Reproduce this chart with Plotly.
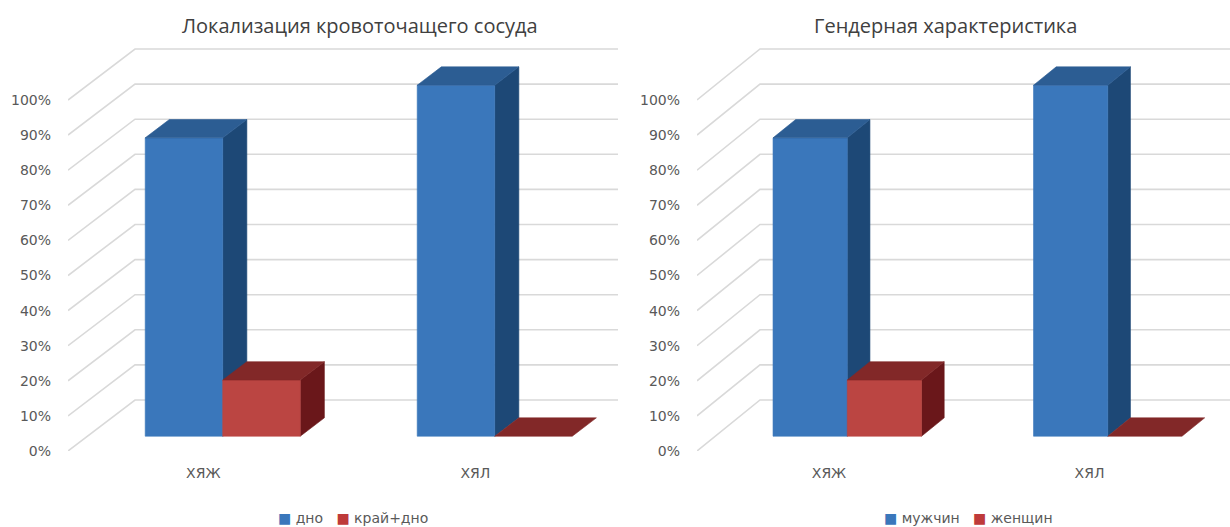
import plotly.graph_objects as go

W, H = 1230, 527

# ---- data -------------------------------------------------------------
categories = ["ХЯЖ", "ХЯЛ"]
y_ticks = [0, 10, 20, 30, 40, 50, 60, 70, 80, 90, 100]

left_title = "Локализация кровоточащего сосуда"
left_names = ["дно", "край+дно"]
left_bottom = [85, 100]      # дно
left_edge = [16, 0]          # край+дно

right_title = "Гендерная характеристика"
right_names = ["мужчин", "женщин"]
right_men = [85, 100]        # мужчин
right_women = [16, 0]        # женщин

# ---- styling ----------------------------------------------------------
BLUE = dict(front="#3A77BB", top="#2C5D93", side="#1D4876", key="#3A77BB")
RED = dict(front="#BB4542", top="#822828", side="#6A171A", key="#BE3A3A")
GRID = "#D9D9D9"
TICK_FONT = dict(family="DejaVu Sans", size=14, color="#595959")
TITLE_FONT = dict(family="Open Sans", size=20, color="#404040")

# vertical mapping shared by both panels (pixels)
ZERO_PX, TOP_PX, PX_PER_PCT = 451, 40, 3.51
DEPTH_DY = 51 / PX_PER_PCT          # depth offset of the back wall, in %
BAR_F0, BAR_F1 = 0.29, 0.65         # bar front / back as fractions of the depth
BAR_W = 0.285                       # bar width in category units

panels = [
    dict(xa="x", ya="y", px0=68, px1=618, c0=203.3, unit=272, dpx=67,
         names=left_names, series=[left_bottom, left_edge], title=left_title,
         title_x=360, legend_x=353),
    dict(xa="x2", ya="y2", px0=697, px1=1230, c0=829, unit=260.5, dpx=63,
         names=right_names, series=[right_men, right_women], title=right_title,
         title_x=945, legend_x=968),
]

fig = go.Figure()
layout_axes = {}
annotations = []

for k, p in enumerate(panels):
    xmin = (p["px0"] - p["c0"]) / p["unit"]
    xmax = (p["px1"] - p["c0"]) / p["unit"]
    dx = p["dpx"] / p["unit"]
    dy = DEPTH_DY

    # side wall diagonals + back wall lines
    gx, gy = [], []
    for v in y_ticks:
        gx += [xmin, xmin + dx, xmax, None]
        gy += [v, v + dy, v + dy, None]
    fig.add_trace(go.Scatter(x=gx, y=gy, mode="lines", xaxis=p["xa"], yaxis=p["ya"],
                             line=dict(color=GRID, width=1.6),
                             hoverinfo="skip", showlegend=False))

    # 3-D columns
    ox0, oy0 = BAR_F0 * dx, BAR_F0 * dy
    ox1, oy1 = BAR_F1 * dx, BAR_F1 * dy
    colors = [BLUE, RED]
    for i, _ in enumerate(categories):
        for s, vals in enumerate(p["series"]):
            v = vals[i]
            xl = i + (s - 1) * BAR_W
            xr = xl + BAR_W
            faces = []
            if v > 0:
                faces.append(("side",
                              [xr + ox0, xr + ox1, xr + ox1, xr + ox0],
                              [oy0, oy1, v + oy1, v + oy0]))
                faces.append(("front",
                              [xl + ox0, xr + ox0, xr + ox0, xl + ox0],
                              [oy0, oy0, v + oy0, v + oy0]))
            faces.append(("top",
                          [xl + ox0, xr + ox0, xr + ox1, xl + ox1],
                          [v + oy0, v + oy0, v + oy1, v + oy1]))
            for face, fx, fy in faces:
                c = colors[s][face]
                fig.add_trace(go.Scatter(
                    x=fx + [fx[0]], y=fy + [fy[0]], mode="lines", fill="toself",
                    fillcolor=c, line=dict(color=c, width=0.6),
                    xaxis=p["xa"], yaxis=p["ya"], hoverinfo="skip", showlegend=False))

    sfx = "" if k == 0 else str(k + 1)
    layout_axes["xaxis" + sfx] = dict(
        domain=[p["px0"] / W, p["px1"] / W], range=[xmin, xmax],
        tickvals=list(range(len(categories))), ticktext=categories,
        showgrid=False, zeroline=False, showline=False, ticks="",
        ticklabelstandoff=12, tickfont=TICK_FONT, fixedrange=True,
        automargin=False, anchor="y" + sfx)
    layout_axes["yaxis" + sfx] = dict(
        domain=[(H - ZERO_PX) / H, (H - TOP_PX) / H],
        range=[0, (ZERO_PX - TOP_PX) / PX_PER_PCT],
        tickvals=y_ticks, ticktext=[f"{v}%" for v in y_ticks],
        showgrid=False, zeroline=False, showline=False, ticks="",
        ticklabelstandoff=16, tickfont=TICK_FONT, fixedrange=True,
        automargin=False, anchor="x" + sfx)

    annotations.append(dict(
        text=p["title"], x=p["title_x"] / W, y=1 - 25 / H, xref="paper", yref="paper",
        xanchor="center", yanchor="middle", showarrow=False, font=TITLE_FONT))
    legend_text = (f'<span style="color:{BLUE["key"]}">■</span> {p["names"][0]}'
                   f'   <span style="color:{RED["key"]}">■</span> {p["names"][1]}')
    annotations.append(dict(
        text=legend_text, x=p["legend_x"] / W, y=1 - 518 / H, xref="paper", yref="paper",
        xanchor="center", yanchor="middle", showarrow=False,
        font=dict(family="DejaVu Sans", size=14, color="#595959")))

fig.update_layout(
    width=W, height=H, margin=dict(l=0, r=0, t=0, b=0, autoexpand=False),
    paper_bgcolor="white", plot_bgcolor="white",
    showlegend=False, annotations=annotations, **layout_axes)

fig.write_html("out.html")
